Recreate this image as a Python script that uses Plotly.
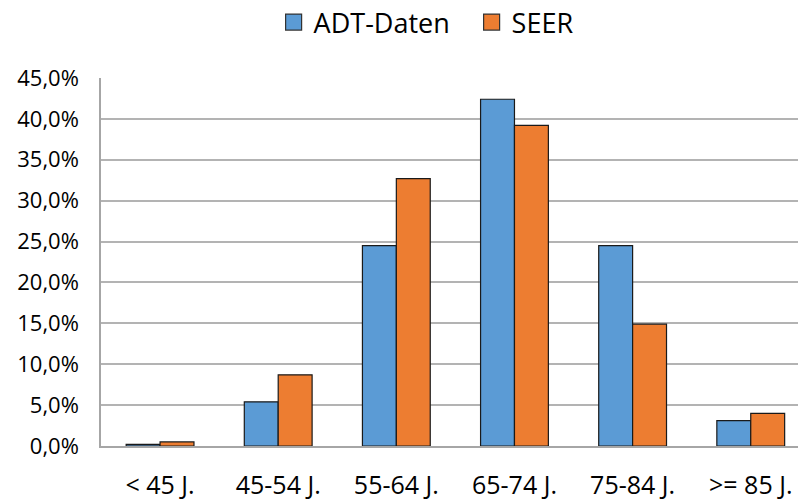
import plotly.graph_objects as go

categories = ["< 45 J.", "45-54 J.", "55-64 J.", "65-74 J.", "75-84 J.", ">= 85 J."]
adt_values = [0.2, 5.4, 24.5, 42.4, 24.5, 3.1]
seer_values = [0.5, 8.7, 32.7, 39.2, 14.9, 4.0]
y_ticks = [0, 5, 10, 15, 20, 25, 30, 35, 40, 45]
y_tick_labels = [f"{v:.1f}%".replace(".", ",") for v in y_ticks]

series_names = ["ADT-Daten", "SEER"]
series_colors = ["#5B9BD5", "#ED7D31"]

FONT = "Open Sans"
EDGE = "#1a1a1a"

fig = go.Figure()
for name, vals, col in zip(series_names, [adt_values, seer_values], series_colors):
    fig.add_trace(go.Bar(name=name, x=categories, y=vals, showlegend=False,
                         marker=dict(color=col, line=dict(color=EDGE, width=1.2))))
# legend-only entries with larger square swatches
for name, col in zip(series_names, series_colors):
    fig.add_trace(go.Scatter(name=name, x=[categories[0]], y=[None], mode="markers",
                             marker=dict(symbol="square", size=16, color=col,
                                         line=dict(color="#333333", width=1.2)),
                             showlegend=True, hoverinfo="skip"))

fig.update_layout(
    width=798, height=501,
    margin=dict(l=101, r=0, t=78, b=55, autoexpand=False),
    paper_bgcolor="white", plot_bgcolor="white",
    barmode="group", bargap=0.426, bargroupgap=0,
    font=dict(family=FONT, color="#000000"),
    legend=dict(orientation="h", xref="container", yref="container",
                x=0.591, xanchor="center", y=0.955, yanchor="middle",
                font=dict(size=27, family=FONT), traceorder="normal",
                itemsizing="trace", itemwidth=30, entrywidth=153),
    showlegend=True,
)
fig.update_xaxes(range=[-0.5, 5.4], showline=True, linecolor="#a6a6a6", linewidth=2,
                 showgrid=False, ticks="outside", ticklen=16, tickcolor="rgba(0,0,0,0)",
                 tickfont=dict(size=25, family=FONT), fixedrange=True, automargin=False)
fig.update_yaxes(range=[0, 45], tickmode="array", tickvals=y_ticks, ticktext=y_tick_labels,
                 showgrid=True, gridcolor="#b3b3b3", gridwidth=1.5,
                 showline=True, linecolor="#a6a6a6", linewidth=1.5, automargin=False,
                 zeroline=False, ticks="outside", ticklen=16, tickcolor="rgba(0,0,0,0)",
                 tickfont=dict(size=22, family=FONT))

fig.write_html("out.html")
